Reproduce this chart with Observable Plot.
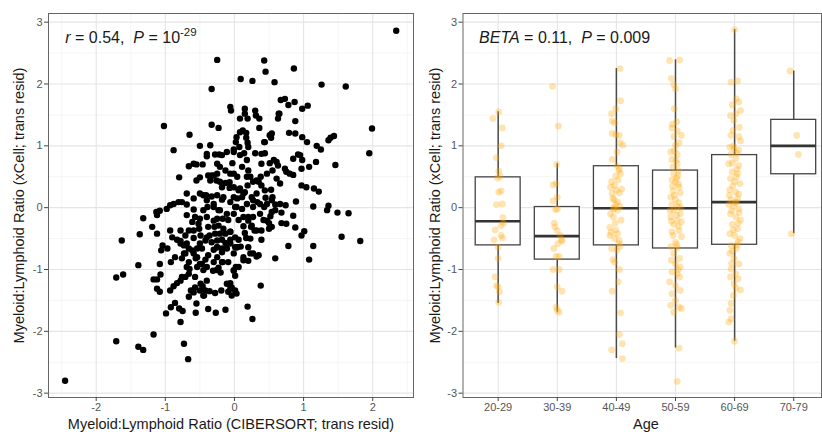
<!DOCTYPE html>
<html><head><meta charset="utf-8">
<script src="https://cdn.jsdelivr.net/npm/d3@7"></script>
<script src="https://cdn.jsdelivr.net/npm/@observablehq/plot@0.6"></script>
<style>
html,body{margin:0;padding:0;background:#fff;}
#wrap{position:relative;width:822px;height:432px;overflow:hidden;}
#left{position:absolute;left:0;top:0;}
#right{position:absolute;left:410px;top:0;}
</style></head><body><div id="wrap"><div id="left"></div><div id="right"></div></div>
<script>
// ---------- data ----------
const xTicks = [-2, -1, 0, 1, 2];
const xMinorTicks = [-2.5, -1.5, -0.5, 0.5, 1.5, 2.5];
const yTicks = [-3, -2, -1, 0, 1, 2, 3];
const yMinorTicks = [-2.5, -1.5, -0.5, 0.5, 1.5, 2.5];

const leftXTitle = "Myeloid:Lymphoid Ratio (CIBERSORT; trans resid)";
const yTitle = "Myeloid:Lymphoid Ratio (xCell; trans resid)";
const rightXTitle = "Age";

// [CIBERSORT, xCell]
const scatterPoints = [
[2.34,2.86],[-2.45,-2.80],[-0.25,2.39],[0.43,2.38],[0.45,2.20],[0.86,2.25],[0.09,2.08],[0.26,2.05],[0.58,2.03],[-0.33,1.92],
[1.26,1.99],[1.61,1.96],[1.99,1.28],[1.95,0.88],[-1.02,1.32],[-0.33,1.34],[-0.23,1.29],[-0.65,1.18],[-0.88,0.93],[-0.50,1.00],
[-0.35,1.01],[-0.80,0.49],[-1.63,-0.53],[-1.37,-0.43],[-1.32,-0.17],[-1.71,-1.13],[-1.61,-1.08],[-1.39,-0.93],[-1.71,-2.16],[-1.39,-2.25],
[-1.32,-2.30],[-1.17,-2.05],[-0.73,-2.20],[-0.67,-2.45],[-0.78,-1.85],[1.46,0.69],[1.55,-0.47],[1.82,-0.54],[1.65,-0.09],[1.49,-0.08],
[1.34,-0.04],[1.36,0.03],[1.14,0.02],[1.14,-0.62],[1.08,-0.84],[0.78,-0.62],[0.59,-0.82],[0.38,-1.26],[0.19,-1.60],[0.26,-1.80],
[-0.13,-1.65],[-0.27,-1.70],[-0.38,-1.64],[-0.56,-1.70],[-0.99,-1.71],[-0.92,-1.61],[-0.86,-1.54],[-0.80,-1.63],[-0.75,-1.67],
[0.67,1.74],[0.73,1.76],[0.78,1.66],[0.87,1.71],[0.98,1.60],[1.06,1.65],[0.65,1.52],[0.63,1.44],[0.88,1.40],[0.79,1.21],
[0.88,1.20],[0.98,1.14],[1.05,1.06],[1.19,1.00],[1.25,0.94],[1.36,1.09],[1.39,1.13],[1.44,1.16],[0.85,0.79],[0.95,0.85],
[0.98,0.77],[0.97,0.63],[1.08,0.66],[1.18,0.74],[0.97,0.36],[1.04,0.33],[1.15,0.31],[1.22,0.26],[0.89,0.10],[0.74,0.04],
[0.68,-0.08],[0.85,-0.13],[0.75,-0.26],[0.68,-0.25],[0.88,-0.32],[0.97,-0.45],[1.01,-0.38],[0.54,1.20],[0.51,1.17],[0.43,1.06],
[0.36,1.44],[0.31,1.49],[0.30,1.57],[0.36,1.29],[0.15,1.60],[0.15,1.52],[0.19,1.44],[-0.06,1.63],[-0.05,1.57],[0.08,1.44],
[0.12,1.25],[0.17,1.21],[0.03,1.14],[0.02,1.06],[0.07,0.98],[0.19,1.05],[0.20,0.98],[0.14,0.88],[0.30,0.88],[0.18,0.77],
[0.44,0.88],[0.51,0.72],[0.57,0.77],[0.63,0.68],[0.73,0.63],[0.80,0.55],[0.85,0.53],[0.55,0.60],[0.47,0.55],[0.39,0.71],
[0.38,0.50],[0.35,0.42],[0.61,0.47],[0.66,0.39],[0.53,0.29],[0.55,0.17],[0.45,0.16],[0.47,0.06],[0.59,0.05],[0.66,0.06],
[0.33,0.09],[0.27,0.01],[0.18,0.06],[0.59,-0.04],[0.52,-0.14],[0.50,-0.25],[0.42,-0.20],[0.39,-0.37],[0.50,-0.34],[0.39,-0.52],
[0.23,-0.50],[0.17,-0.49],[0.27,-0.15],[0.20,-0.15],[0.06,-0.20],[0.13,-0.30],[0.06,-0.52],[0.01,-0.64],[0.09,-0.63],[0.27,-0.74],
[0.32,-0.79],[0.13,-0.85],[0.20,-0.86],[0.02,-0.96],[-0.01,-1.02],[-0.06,-1.22],[-0.04,-1.29],[0.01,-1.34],[0.03,-1.39],[-0.04,-1.42],
[-0.09,-1.36],[-0.19,-1.34],[-0.28,-1.38],[-0.36,-1.35],[-0.44,-1.42],[-0.50,-1.34],[-0.57,-1.29],[-0.63,-1.34],[-0.66,-1.44],[-0.55,-1.55],
[-0.46,-1.27],[-0.40,-1.18],[-0.31,-1.02],[-0.23,-0.97],[-0.17,-0.88],[-0.09,-0.88],[-0.25,-0.80],[-0.30,-0.68],[-0.25,-0.64],[-0.18,-0.66],
[-0.13,-0.57],[-0.06,-0.52],[-0.06,-0.39],[-0.13,-0.42],[-0.21,-0.42],[-0.28,-0.42],[-0.36,-0.45],[-0.42,-0.53],[-0.50,-0.58],[-0.47,-0.66],
[-0.54,-0.66],[-0.59,-0.74],[-0.56,-0.82],[-0.50,-0.91],[-0.42,-0.84],[-0.38,-0.77],[-0.40,-0.96],[-0.54,-0.96],[-0.65,-0.99],[-0.66,-1.07],
[-0.71,-1.12],[-0.78,-1.18],[-0.83,-1.22],[-0.88,-1.27],[-0.93,-1.34],[-1.12,-1.31],[-1.08,-1.36],[-1.12,-1.16],[-1.17,-1.16],[-1.07,-1.08],
[-1.08,-0.91],[-0.92,-0.88],[-0.86,-0.80],[-0.76,-0.82],[-0.66,-0.88],[-0.97,-0.66],[-1.04,-0.61],[-1.06,-0.69],[-0.83,-0.52],[-0.78,-0.54],
[-0.73,-0.61],[-0.66,-0.66],[-0.71,-0.74],[-1.19,-0.31],[-1.12,-0.42],[-1.13,-0.07],[-1.12,-0.12],[-1.08,-0.05],[-0.98,-0.02],[-0.93,0.04],
[-0.88,0.06],[-0.81,0.09],[-0.69,0.05],[-0.69,-0.12],[-0.59,-0.03],[-0.50,-0.18],[-0.52,-0.26],[-0.51,-0.34],[-0.45,-0.04],[-0.39,0.01],
[-0.41,0.20],[-0.33,0.18],[-0.25,0.20],[-0.18,0.13],[-0.30,0.06],[-0.23,-0.04],[-0.25,-0.18],[-0.17,-0.18],[-0.11,-0.10],[-0.09,-0.20],
[-0.01,-0.10],[0.01,0.01],[-0.06,0.09],[-0.01,0.17],[0.04,0.15],[0.11,0.17],[0.15,0.25],[0.08,0.31],[-0.01,0.33],[-0.07,0.32],
[-0.13,0.40],[-0.21,0.42],[-0.26,0.44],[-0.30,0.52],[-0.35,0.44],[-0.38,0.52],[-0.25,0.55],[-0.21,0.66],[-0.13,0.60],[-0.25,0.71],
[-0.18,0.85],[-0.28,0.86],[-0.40,0.83],[-0.11,0.90],[-0.03,0.72],[-0.01,0.55],[0.04,0.50],[0.11,0.66],[0.20,0.60],[0.23,0.50],
[0.27,0.42],[0.19,0.36],[0.32,0.23],[0.25,0.17],[-0.50,0.49],[-0.55,0.44],[-0.55,0.70],[-0.59,0.71],[-0.66,0.67],[-0.46,0.70],
[-0.59,0.15],[-0.50,0.23],[-0.69,0.23],[-0.76,0.09],[-0.01,0.90],[0.08,0.85],[-0.29,-0.31],[-0.38,-0.31],[-0.40,-0.15],[-0.61,-0.23],
[-0.66,-0.37],[-0.71,-0.45],[-0.78,-0.37],[-0.93,-0.37],[-0.90,-0.48],[-0.59,-0.49],[-0.25,-0.53],[-0.18,-0.52],[-0.11,-0.66],[-0.01,-0.74],
[0.04,-0.64],[0.20,-0.64],[0.15,-0.41],[0.24,-0.31],[0.29,-0.37],[0.37,-0.10],[0.43,0.01],[0.54,0.12],[0.08,1.22],[0.17,1.13],
[0.44,1.06],[0.53,1.13],[0.92,0.86],[-0.26,-1.01],[-0.20,-1.05],[0.64,1.52],
[-0.40,0.87],[-0.22,0.86],[-0.01,0.94],[-0.06,0.55],[-0.33,0.52],[-0.18,0.33],[-0.07,0.41],[0.06,0.28],[0.13,0.23],[0.18,0.50],
[0.32,0.44],[0.39,0.36],[0.44,0.28],[0.61,0.74],[0.75,0.58],[0.39,0.87],[-0.45,0.20],[-0.40,0.12],[-0.30,0.01],[-0.21,-0.04],
[-0.16,0.17],[0.03,0.01],[0.11,-0.02],[0.27,0.12],[0.37,0.06],[0.54,-0.07],[-0.57,-0.15],[-0.59,-0.37],[-0.49,-0.45],[-0.30,-0.21],
[-0.23,-0.29],[-0.16,-0.34],[-0.06,-0.39],[0.01,-0.48],[0.13,-0.15],[0.20,-0.21],[0.25,-0.29],[0.32,-0.37],[0.47,-0.21],[0.54,-0.31],
[-0.40,-0.48],[-0.33,-0.56],[-0.25,-0.64],[-0.18,-0.72],[-0.06,-0.58],[0.03,-0.64],[0.13,-0.80],[0.23,-0.74],[0.35,-0.77],[-0.69,-0.58],
[-0.61,-0.69],[-0.54,-0.80],[-0.47,-0.91],[-0.45,-1.01],[-0.78,-0.58],[-0.73,-0.74],[-0.69,-0.96],[-0.76,-1.12],[-0.30,-0.88],[-0.18,-0.88],
[-0.01,-1.01],[0.06,-0.96],[0.01,-1.10],[-0.57,-1.12],[-0.49,-1.23],[-0.42,-1.34],[-0.59,-1.37],[-0.45,-1.42],[-0.11,-1.23],[-0.06,-1.31]
];

const ageGroups = ["20-29", "30-39", "40-49", "50-59", "60-69", "70-79"];
// box statistics
const boxQ1     = [-0.61, -0.84, -0.61, -0.66, -0.60, 0.54];
const boxMedian = [-0.22, -0.46, -0.01, -0.01, 0.09, 1.00];
const boxQ3     = [0.49, 0.01, 0.67, 0.60, 0.85, 1.42];
const whiskerLo = [-1.55, -1.69, -2.44, -2.27, -2.16, -0.42];
const whiskerHi = [1.55, 0.71, 2.25, 2.39, 2.88, 2.21];

// jittered points per group: [horizontal offset (fraction of category step), xCell value]
const pts2029 = [[-0.09,1.44],[0.01,1.55],[0.07,1.29],[0.05,1.00],[-0.03,0.81],[0.01,0.59],[0.03,0.51],[-0.01,0.48],[0.05,0.27],[0.01,0.25],
[-0.03,0.05],[0.07,0.06],[0.08,-0.16],[0.05,-0.29],[-0.05,-0.36],[-0.07,-0.52],[0.07,-0.49],[0.0,-0.64],[0.0,-0.82],[-0.05,-1.12],
[0.0,-1.28],[0.02,-1.36],[-0.03,-1.26],[0.01,-1.53],[0.05,-0.45],[0.09,-0.25]];
const pts3039 = [[-0.08,1.96],[0.02,1.32],[-0.01,0.70],[-0.07,0.37],[-0.02,0.39],[0,0.17],[-0.07,0.11],[-0.03,-0.03],[0,-0.02],[-0.05,-0.25],
[-0.04,-0.31],[0,-0.37],[0.05,-0.45],[0.07,-0.52],[0.08,-0.54],[0.01,-0.58],[-0.06,-0.66],[-0.02,-0.79],[0.03,-0.79],[-0.07,-1.0],
[0.03,-1.0],[0,-1.28],[0.08,-1.35],[-0.02,-1.61],[0,-1.66],[0.03,-1.69]];
const pts4049 = [[0.06,2.25],[0.07,1.73],[-0.08,1.52],[-0.01,1.60],[-0.07,1.40],[-0.03,1.37],[-0.07,1.20],[-0.01,1.18],[0.05,1.17],[0.06,1.05],
[0.11,1.01],[0.01,0.90],[-0.07,0.78],[0.01,0.68],[0.05,0.63],[0.07,0.55],[-0.01,0.51],[-0.08,0.42],[-0.03,0.36],[-0.10,0.33],
[0.05,0.24],[-0.07,0.23],[-0.04,0.13],[0.02,0.09],[-0.01,0.05],[0.06,0.02],[-0.05,-0.02],[0.02,-0.04],[-0.10,-0.10],[-0.05,-0.15],
[-0.11,-0.32],[-0.01,-0.36],[0.02,-0.42],[-0.11,-0.45],[-0.03,-0.50],[0.05,-0.53],[0.06,-0.63],[-0.08,-0.66],[0.01,-0.69],[-0.06,-0.84],
[-0.03,-0.88],[0.05,-1.00],[0.03,-1.20],[-0.07,-1.35],[0.07,-1.70],[0.05,-2.05],[0.10,-2.20],[-0.08,-2.30],[0.10,-2.44],[0.03,0.45],
[-0.06,0.15],[0.08,-0.20],[-0.02,-0.25],[0.04,-0.58],[-0.09,-0.40],[0.0,0.28],[0.09,0.30],[-0.04,0.00],[0.04,0.60]];
const pts5059 = [[-0.10,2.38],[0.07,2.39],[-0.07,2.09],[-0.03,1.99],[0,1.92],[-0.02,1.60],[0.02,1.39],[-0.06,1.29],[0.03,1.24],[0.10,1.17],
[-0.03,1.15],[0,1.01],[-0.08,0.90],[0.03,0.86],[-0.06,0.78],[0.01,0.77],[-0.04,0.66],[0.03,0.71],[-0.03,0.55],[0.04,0.52],
[-0.06,0.45],[0,0.42],[0.06,0.33],[-0.04,0.27],[0.08,0.24],[-0.08,0.17],[0,0.13],[0.06,0.08],[-0.06,0.05],[0.03,0.02],
[-0.03,-0.04],[0.08,-0.10],[-0.08,-0.15],[0.03,-0.20],[0.10,-0.23],[-0.03,-0.27],[0.06,-0.37],[-0.06,-0.39],[0.10,-0.47],[0,-0.56],
[-0.08,-0.63],[0.03,-0.65],[-0.03,-0.74],[0.07,-0.82],[-0.07,-0.85],[0,-0.91],[0.08,-0.96],[-0.06,-1.04],[0.03,-1.07],[0.07,-1.12],
[-0.10,-1.20],[0,-1.26],[0.08,-1.34],[-0.06,-1.39],[0,-1.50],[-0.08,-1.58],[0.06,-1.61],[-0.03,-1.69],[0.10,-1.63],[0.06,-2.27],
[0.03,-2.81],[0.05,0.60],[-0.05,0.35],[0.02,0.48],[-0.02,0.20],[0.09,0.00],[-0.09,-0.05],[0.05,-0.30],[-0.04,-0.45],[0.02,-0.60],
[0.06,1.05],[-0.05,1.35],[0.04,-1.00],[-0.02,0.92],[0.05,0.38],[-0.07,-0.22],[0.02,-0.12]];
const pts6069 = [[0,2.88],[-0.06,2.03],[0.05,2.05],[-0.04,1.66],[0.03,1.76],[0.07,1.71],[-0.07,1.49],[0.02,1.52],[0.10,1.57],[-0.01,1.41],
[-0.06,1.17],[0.07,1.15],[0.10,1.08],[-0.08,0.98],[-0.01,0.95],[0.07,0.93],[-0.06,0.86],[0.02,0.79],[-0.10,0.71],[0.07,0.68],
[-0.04,0.58],[0.05,0.55],[-0.07,0.47],[0,0.42],[0.09,0.39],[-0.08,0.29],[0.02,0.25],[0.07,0.22],[-0.06,0.13],[0.03,0.09],
[-0.10,0.05],[-0.02,0.02],[0.07,-0.02],[-0.07,-0.10],[0.02,-0.15],[0.10,-0.20],[-0.04,-0.27],[0.05,-0.34],[-0.08,-0.42],[0,-0.45],
[0.09,-0.50],[-0.06,-0.61],[0.03,-0.66],[-0.08,-0.74],[-0.01,-0.82],[0.07,-0.91],[-0.06,-0.99],[0.02,-1.07],[-0.07,-1.12],[0.06,-1.15],
[-0.01,-1.23],[0.10,-1.33],[-0.02,-1.42],[-0.06,-1.55],[-0.08,-1.66],[-0.06,-1.80],[-0.10,-1.85],[0,-2.16],[0.04,0.62],[-0.03,0.35],
[0.05,0.15],[-0.05,-0.05],[0.01,0.08],[0.08,-0.08],[-0.02,-0.36],[0.06,-0.55],[-0.04,-0.70],[0.04,0.88],[-0.02,1.00],[0.03,0.50],
[-0.09,0.20],[0.06,-0.25],[-0.05,-0.90],[0.04,-0.60],[0.08,1.30],[-0.03,1.25],[0.02,-1.30],[-0.04,0.72]];
const pts7079 = [[-0.06,2.21],[0.05,1.17],[0.08,0.86],[-0.04,-0.42]];
const groupPoints = [pts2029, pts3039, pts4049, pts5059, pts6069, pts7079];

// ---------- styling ----------
const FONT = '"Liberation Sans", Arial, Helvetica, sans-serif';
const gridMajor = {stroke: "#e5e5e5", strokeOpacity: 1, strokeWidth: 1.1};
const gridMinor = {stroke: "#f1f1f1", strokeOpacity: 1, strokeWidth: 0.7};
const axisStyle = {tickSize: 4, tickPadding: 2, fontSize: 11, stroke: "#444", fill: "#555", label: null};
const titleStyle = {fontSize: 14.5, fill: "#1a1a1a", text: d => d, textAnchor: "middle"};

// ---------- left panel ----------
const leftPlot = Plot.plot({
  width: 420, height: 432,
  marginLeft: 48, marginRight: 7, marginTop: 13, marginBottom: 35,
  style: {fontFamily: FONT, background: "transparent", overflow: "visible"},
  x: {domain: [-2.69, 2.59]},
  y: {domain: [-3.07, 3.14]},
  marks: [
    Plot.gridX(xMinorTicks, gridMinor),
    Plot.gridY(yMinorTicks, gridMinor),
    Plot.gridX(xTicks, gridMajor),
    Plot.gridY(yTicks, gridMajor),
    Plot.dot(scatterPoints, {x: d => d[0], y: d => d[1], r: 3.2, fill: "#000", stroke: "none"}),
    Plot.frame({stroke: "#666", strokeWidth: 1}),
    Plot.axisX(xTicks, {...axisStyle, tickFormat: d => String(d)}),
    Plot.axisY(yTicks, {...axisStyle, tickFormat: d => String(d)}),
    Plot.text([leftXTitle], {...titleStyle, frameAnchor: "bottom", dy: 31, lineAnchor: "bottom"}),
    Plot.text([yTitle], {...titleStyle, frameAnchor: "left", rotate: -90, dx: -29})
  ]
});
document.getElementById("left").appendChild(leftPlot);

// ---------- right panel ----------
const boxes = ageGroups.map((g, i) => ({
  i: i + 1, q1: boxQ1[i], med: boxMedian[i], q3: boxQ3[i], lo: whiskerLo[i], hi: whiskerHi[i]
}));
const jitter = groupPoints.flatMap((arr, gi) => arr.map(([dx, y]) => ({x: gi + 1 + dx, y})));
const half = 0.38;

const rightPlot = Plot.plot({
  width: 412, height: 432,
  marginLeft: 52.5, marginRight: 1, marginTop: 13, marginBottom: 35,
  style: {fontFamily: FONT, background: "transparent", overflow: "visible"},
  x: {domain: [0.405, 6.47]},
  y: {domain: [-3.07, 3.14]},
  marks: [
    Plot.gridY(yMinorTicks, gridMinor),
    Plot.gridY(yTicks, gridMajor),
    Plot.gridX(boxes.map(b => b.i), gridMajor),
    Plot.ruleX(boxes, {x: "i", y1: "lo", y2: "q1", stroke: "#4a4a4a", strokeWidth: 1.5}),
    Plot.ruleX(boxes, {x: "i", y1: "q3", y2: "hi", stroke: "#4a4a4a", strokeWidth: 1.5}),
    Plot.rect(boxes, {x1: d => d.i - half, x2: d => d.i + half, y1: "q1", y2: "q3", fill: "white", stroke: "#444", strokeWidth: 1.3}),
    Plot.ruleY(boxes, {y: "med", x1: d => d.i - half, x2: d => d.i + half, stroke: "#333", strokeWidth: 2.6}),
    Plot.dot(jitter, {x: "x", y: "y", r: 3.4, fill: "#FFA500", fillOpacity: 0.3, stroke: "none"}),
    Plot.frame({stroke: "#666", strokeWidth: 1}),
    Plot.axisX(boxes.map(b => b.i), {...axisStyle, tickFormat: i => ageGroups[i - 1]}),
    Plot.axisY(yTicks, {...axisStyle, tickFormat: d => String(d)}),
    Plot.text([rightXTitle], {...titleStyle, x: (ageGroups.length + 1) / 2, frameAnchor: "bottom", dy: 31, lineAnchor: "bottom"}),
    Plot.text([yTitle], {...titleStyle, frameAnchor: "left", rotate: -90, dx: -27.5})
  ]
});
document.getElementById("right").appendChild(rightPlot);

// ---------- annotations with mixed styles ----------
function annotate(svg, px, py, parts) {
  const t = d3.select(svg).append("text")
    .attr("x", px).attr("y", py)
    .attr("text-anchor", "start")
    .attr("font-size", 16).attr("fill", "#1a1a1a")
    .style("font-family", FONT);
  for (const p of parts) {
    const s = t.append("tspan").text(p.t);
    if (p.i) s.attr("font-style", "italic");
    if (p.sup) s.attr("font-size", 11.5).attr("dy", -7);
  }
}
annotate(leftPlot, leftPlot.scale("x").apply(-2.44), leftPlot.scale("y").apply(2.66), [
  {t: "r", i: true}, {t: " = 0.54,  "}, {t: "P", i: true}, {t: " = 10"}, {t: "-29", sup: true}
]);
annotate(rightPlot, rightPlot.scale("x").apply(0.685), rightPlot.scale("y").apply(2.66), [
  {t: "BETA", i: true}, {t: " = 0.11,  "}, {t: "P", i: true}, {t: " = 0.009"}
]);
</script>
</body></html>
